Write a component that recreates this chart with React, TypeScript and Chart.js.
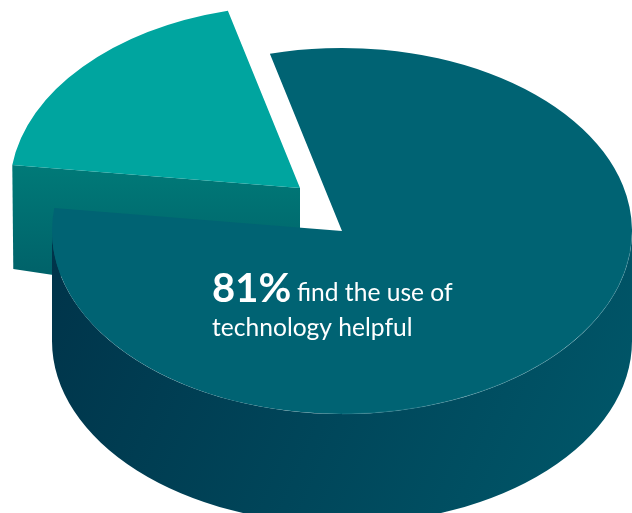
import React, { useEffect, useRef } from "react";
import { Chart, registerables } from "chart.js";

Chart.register(...registerables);

// Share of respondents: the minority slice is listed first so the large slice paints over it.
const sliceLabels = ["Do not find it helpful", "Find technology helpful"];
const sliceValues = [19, 81];
const topColors = ["#00a59f", "#006373"];

const calloutFigure = "81%";
const calloutFirstLine = "find the use of";
const calloutSecondLine = "technology helpful";

const ROTATION_DEG = -82.8;
const RADIUS = 290;
const TILT = 0.631;
const CENTER = { x: 342, y: 231 };
const DEPTH = 110;
const EXPLODE = { x: -42, y: -43 };
const CUT_DEPTH = 104;

const pie3d = {
  id: "pie3d",
  // The pie is laid out as a circle; the tilt squashes it while it paints.
  afterDatasetsUpdate(chart: any) {
    const small = chart.getDatasetMeta(0).data[0];
    small.x += EXPLODE.x;
    small.y += EXPLODE.y / TILT;
  },
  beforeDatasetsDraw(chart: any) {
    const { ctx } = chart;
    const [small, large] = chart.getDatasetMeta(0).data;

    // Cut face of the exploded slice, running from its apex to the outer rim.
    const apexX = CENTER.x + EXPLODE.x;
    const apexY = CENTER.y + EXPLODE.y;
    const rimX = apexX + Math.cos(small.startAngle) * RADIUS;
    const rimY = apexY + Math.sin(small.startAngle) * RADIUS * TILT;
    const cut = ctx.createLinearGradient(0, rimY, 0, rimY + CUT_DEPTH);
    cut.addColorStop(0, "#007a78");
    cut.addColorStop(1, "#00636a");
    ctx.fillStyle = cut;
    ctx.beginPath();
    ctx.moveTo(apexX, apexY);
    ctx.lineTo(rimX, rimY);
    ctx.lineTo(rimX + 1, rimY + CUT_DEPTH);
    ctx.lineTo(apexX, apexY + CUT_DEPTH + 20);
    ctx.closePath();
    ctx.fill();

    // Outer wall along the front of the large slice.
    const wall = ctx.createLinearGradient(52, 250, 632, 500);
    wall.addColorStop(0, "#00344a");
    wall.addColorStop(0.5, "#00465a");
    wall.addColorStop(1, "#00586a");
    ctx.fillStyle = wall;
    ctx.beginPath();
    ctx.ellipse(CENTER.x, CENTER.y, RADIUS, RADIUS * TILT, 0, 0, Math.PI);
    ctx.ellipse(CENTER.x, CENTER.y + DEPTH, RADIUS, RADIUS * TILT, 0, Math.PI, 0, true);
    ctx.closePath();
    ctx.fill();

    ctx.save();
    ctx.translate(CENTER.x, CENTER.y);
    ctx.scale(1, TILT);
    ctx.translate(-large.x, -large.y);
  },
  afterDatasetsDraw(chart: any) {
    const { ctx } = chart;
    ctx.restore();

    // Faint highlight where the top of the large slice meets its wall.
    ctx.strokeStyle = "rgba(120, 180, 190, 0.4)";
    ctx.lineWidth = 0.6;
    ctx.beginPath();
    ctx.ellipse(CENTER.x, CENTER.y, RADIUS, RADIUS * TILT, 0, 0.02, Math.PI / 2);
    ctx.stroke();

    // Callout set on the large slice.
    ctx.fillStyle = "#ffffff";
    ctx.textAlign = "left";
    ctx.textBaseline = "alphabetic";
    ctx.font = "bold 40px Lato";
    ctx.fillText(calloutFigure, 212, 302);
    ctx.font = "24.6px Lato";
    ctx.fillText(calloutFirstLine, 297, 301);
    ctx.fillText(calloutSecondLine, 212, 336);
  },
};

export default function App() {
  const canvasRef = useRef<HTMLCanvasElement>(null);

  useEffect(() => {
    const chart = new Chart(canvasRef.current!, {
      type: "pie",
      data: {
        labels: sliceLabels,
        datasets: [
          {
            data: sliceValues,
            backgroundColor: topColors,
            borderWidth: 0,
            radius: RADIUS,
          },
        ],
      },
      options: {
        responsive: false,
        animation: false,
        rotation: ROTATION_DEG,
        events: [],
        layout: { padding: 0 },
        plugins: { legend: { display: false }, tooltip: { enabled: false } },
      },
      plugins: [pie3d],
    } as any);
    return () => chart.destroy();
  }, []);

  return (
    <div style={{ position: "absolute", left: 0, top: 0, width: 632, height: 513, overflow: "hidden", background: "#ffffff" }}>
      <canvas ref={canvasRef} width={632} height={513} style={{ display: "block" }} />
    </div>
  );
}
